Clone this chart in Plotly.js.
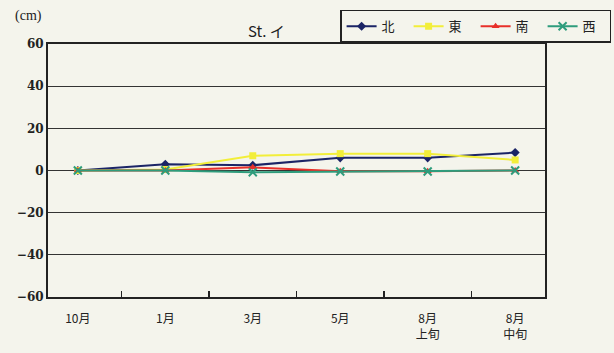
<!DOCTYPE html>
<html>
<head>
<meta charset="utf-8">
<script src="https://cdn.plot.ly/plotly-3.0.1.min.js"></script>
<style>html,body{margin:0;padding:0;background:#f4f4ec;}#chart{width:614px;height:353px;}</style>
</head>
<body>
<div id="chart"></div>
<script>
const categories = ["10月", "1月", "3月", "5月", "8月<br>上旬", "8月<br>中旬"];
const seriesNames = ["北", "東", "南", "西"];
const north = [0, 3, 2.5, 6, 6, 8.5];
const east = [0, 0.5, 7, 8, 8, 5];
const south = [0, 0, 1.5, -0.3, -0.3, 0];
const west = [0, 0, -0.8, -0.5, -0.5, 0];
const yTicks = [-60, -40, -20, 0, 20, 40, 60];

const colors = ["#1b2466", "#f2ee3a", "#e8302a", "#2e9c7c"];
const symbols = ["diamond", "square", "triangle-up", "x-thin-open"];
const values = [north, east, south, west];

const traces = values.map((v, i) => ({
  x: categories,
  y: v,
  name: seriesNames[i],
  type: "scatter",
  mode: "lines+markers",
  line: {color: colors[i], width: 2},
  marker: {symbol: symbols[i], size: i === 3 ? 8 : 7, color: colors[i],
           line: {color: colors[i], width: i === 3 ? 2 : 0}}
}));

const layout = {
  width: 614, height: 353,
  paper_bgcolor: "#f4f4ec",
  plot_bgcolor: "#f4f4ec",
  margin: {l: 48, r: 69, t: 44, b: 56, autoexpand: false},
  showlegend: true,
  legend: {
    orientation: "h", x: 1.133, y: 1.135, xanchor: "right", yanchor: "top",
    bordercolor: "#222", borderwidth: 1.5, bgcolor: "rgba(0,0,0,0)",
    font: {family: "Noto Sans CJK JP", size: 13, color: "#222"},
    tracegroupgap: 0, entrywidth: 22, entrywidthmode: "pixels"
  },
  annotations: [
    {text: "St. イ", xref: "paper", yref: "paper", x: 0.44, y: 1.005, xanchor: "center", yanchor: "bottom",
     showarrow: false, font: {family: "Noto Sans CJK JP", size: 15, color: "#222"}},
    {text: "(cm)", xref: "paper", yref: "paper", x: -0.07, y: 1.07, xanchor: "left", yanchor: "bottom",
     showarrow: false, font: {family: "Liberation Serif", size: 14, color: "#222"}}
  ],
  xaxis: {
    type: "category",
    showline: true, linecolor: "#222", linewidth: 2, mirror: true,
    showgrid: false, zeroline: false,
    ticks: "inside", ticklen: 6, tickcolor: "#222", tickwidth: 1.5,
    tickson: "boundaries",
    ticklabelstandoff: 10,
    tickfont: {family: "Noto Sans CJK JP", size: 12, color: "#222"}
  },
  yaxis: {
    range: [-60, 60], tickvals: yTicks,
    showline: true, linecolor: "#222", linewidth: 2, mirror: true,
    showgrid: true, gridcolor: "#333", gridwidth: 1,
    zeroline: false, ticks: "",
    tickfont: {family: "DejaVu Serif", size: 12, color: "#222", weight: "bold"}
  }
};

Plotly.newPlot("chart", traces, layout, {displayModeBar: false, staticPlot: true});
</script>
</body>
</html>
